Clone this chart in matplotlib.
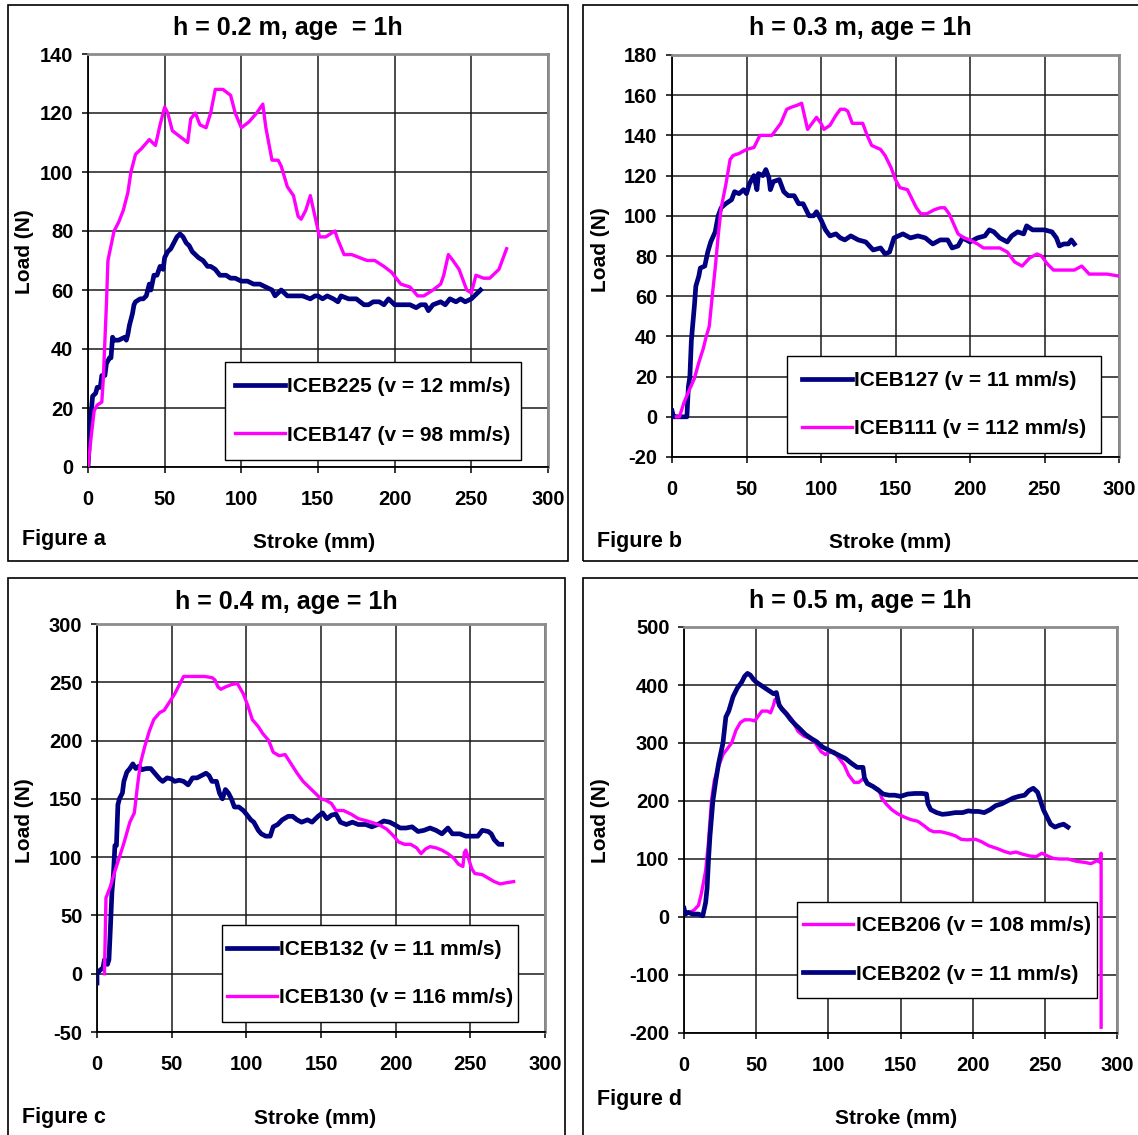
import matplotlib
matplotlib.use('Agg')
import matplotlib.pyplot as plt
from matplotlib.patches import Rectangle

W, H = 1138, 1135
plt.rcParams['font.family'] = ['Liberation Sans', 'DejaVu Sans']
plt.rcParams['font.weight'] = 'bold'
plt.rcParams['axes.unicode_minus'] = False

NAVY = '#000080'
MAGENTA = '#FF00FF'

# ---- data (stroke mm, load N) ----
iceb225 = [(0, 0), (1, 10), (2, 18), (3, 24), (5, 25), (6, 27), (8, 27), (9, 31), (11, 31),
           (12, 35), (14, 37), (15, 37), (16, 44), (17, 43), (20, 43), (24, 44), (25, 43),
           (26, 45), (27, 48), (29, 52), (30, 55), (31, 56), (34, 57), (36, 57), (38, 58),
           (40, 62), (41, 60), (43, 65), (45, 65), (47, 68), (49, 67), (50, 71), (52, 73),
           (54, 74), (56, 76), (58, 78), (60, 79), (62, 78), (64, 76), (66, 75), (68, 73),
           (70, 72), (72, 71), (75, 70), (78, 68), (80, 68), (83, 67), (86, 65), (90, 65),
           (93, 64), (96, 64), (100, 63), (104, 63), (108, 62), (112, 62), (116, 61),
           (120, 60), (122, 58), (124, 59), (126, 60), (130, 58), (135, 58), (140, 58),
           (145, 57), (148, 58), (150, 58), (153, 57), (156, 58), (160, 57), (163, 56),
           (165, 58), (170, 57), (175, 57), (180, 55), (183, 55), (186, 56), (190, 56),
           (193, 55), (196, 57), (200, 55), (205, 55), (210, 55), (214, 54), (217, 55),
           (220, 55), (222, 53), (225, 55), (230, 56), (233, 55), (236, 57), (240, 56),
           (243, 57), (246, 56), (250, 57), (252, 58), (254, 59), (256, 60)]
iceb147 = [(0, 0), (2, 10), (4, 19), (6, 21), (9, 22), (10, 30), (12, 55), (13, 70),
           (17, 80), (20, 83), (23, 87), (26, 93), (28, 100), (31, 106), (35, 108),
           (40, 111), (44, 109), (47, 116), (50, 122), (52, 120), (55, 114), (60, 112),
           (65, 110), (67, 118), (70, 120), (73, 116), (77, 115), (80, 120), (83, 128),
           (88, 128), (93, 126), (96, 120), (100, 115), (105, 117), (110, 120), (114, 123),
           (116, 115), (120, 104), (124, 104), (126, 102), (130, 95), (134, 92), (137, 85),
           (139, 84), (142, 87), (145, 92), (148, 85), (151, 78), (155, 78), (158, 79),
           (161, 80), (163, 77), (167, 72), (172, 72), (177, 71), (182, 70), (187, 70),
           (193, 68), (198, 66), (204, 62), (210, 61), (215, 58), (219, 58), (225, 60),
           (230, 62), (232, 65), (235, 72), (238, 70), (242, 67), (247, 60), (250, 59),
           (253, 65), (258, 64), (262, 64), (266, 66), (268, 67), (273, 74)]

iceb127 = [(0, 3), (1, 0), (3, 0), (6, 0), (10, 0), (11, 15), (12, 20), (13, 38), (15, 55),
           (16, 65), (18, 70), (19, 74), (22, 75), (24, 82), (26, 87), (29, 92), (31, 100),
           (33, 104), (36, 106), (40, 108), (42, 112), (45, 111), (48, 113), (50, 111),
           (52, 116), (55, 120), (57, 113), (58, 121), (61, 120), (63, 123), (65, 119),
           (66, 113), (68, 117), (72, 118), (75, 112), (78, 110), (82, 110), (85, 106),
           (88, 106), (90, 103), (92, 100), (95, 100), (97, 102), (100, 98), (103, 93),
           (106, 90), (110, 91), (113, 89), (116, 88), (120, 90), (125, 88), (130, 87),
           (135, 83), (140, 84), (143, 81), (146, 82), (149, 89), (152, 90), (155, 91),
           (160, 89), (165, 90), (170, 89), (175, 86), (180, 88), (185, 88), (188, 84),
           (192, 85), (195, 89), (200, 87), (205, 89), (210, 90), (213, 93), (216, 92),
           (220, 89), (225, 87), (228, 90), (232, 92), (236, 91), (238, 95), (242, 93),
           (246, 93), (250, 93), (255, 92), (258, 89), (260, 85), (263, 86), (266, 86),
           (268, 88), (270, 86)]
iceb111 = [(3, 0), (5, 0), (8, 7), (12, 14), (15, 19), (18, 27), (21, 34), (23, 40), (25, 45),
           (27, 60), (29, 74), (31, 90), (33, 104), (36, 115), (39, 128), (41, 130), (45, 131),
           (50, 133), (55, 134), (59, 140), (63, 140), (67, 140), (70, 143), (73, 146),
           (77, 153), (80, 154), (84, 155), (87, 156), (91, 143), (94, 146), (97, 149),
           (100, 146), (102, 143), (106, 145), (110, 150), (113, 153), (116, 153), (118, 152),
           (121, 146), (125, 146), (128, 146), (131, 140), (134, 135), (137, 134), (140, 133),
           (143, 130), (147, 124), (150, 118), (153, 114), (158, 113), (160, 110), (164, 104),
           (167, 101), (171, 101), (176, 103), (180, 104), (183, 104), (186, 101), (189, 96),
           (192, 91), (196, 89), (200, 88), (205, 86), (209, 84), (214, 84), (220, 84),
           (225, 82), (230, 77), (235, 75), (240, 79), (245, 81), (248, 80), (252, 76),
           (256, 73), (262, 73), (270, 73), (275, 75), (280, 71), (285, 71), (292, 71),
           (300, 70)]

iceb132 = [(0, -8), (0, 0), (2, 3), (4, 5), (5, 12), (7, 8), (8, 12), (9, 40), (10, 70),
           (11, 85), (12, 110), (13, 110), (14, 145), (15, 150), (17, 155), (18, 165),
           (20, 173), (22, 176), (24, 180), (26, 176), (28, 178), (30, 175), (33, 176),
           (36, 176), (38, 173), (40, 170), (42, 167), (44, 165), (47, 168), (50, 167),
           (52, 165), (55, 166), (58, 165), (61, 162), (64, 168), (67, 168), (70, 170),
           (73, 172), (75, 170), (77, 165), (80, 165), (82, 155), (84, 150), (86, 158),
           (88, 155), (90, 150), (92, 143), (95, 143), (98, 140), (100, 137), (103, 132),
           (105, 130), (108, 123), (110, 120), (113, 118), (116, 118), (118, 126), (121, 128),
           (124, 132), (128, 135), (131, 135), (134, 132), (137, 130), (141, 132), (144, 130),
           (148, 135), (151, 138), (154, 133), (157, 136), (160, 137), (163, 130), (167, 128),
           (171, 130), (175, 128), (180, 128), (184, 126), (188, 128), (192, 131), (196, 130),
           (199, 128), (203, 125), (207, 125), (211, 126), (215, 122), (219, 123), (223, 125),
           (227, 123), (231, 120), (235, 125), (238, 120), (243, 120), (247, 118), (251, 118),
           (255, 118), (258, 123), (262, 122), (264, 120), (266, 115), (269, 111), (271, 111)]
iceb130 = [(5, 0), (6, 65), (9, 75), (12, 88), (15, 100), (18, 112), (22, 130), (25, 138),
           (27, 160), (29, 180), (32, 195), (35, 208), (38, 218), (42, 224), (45, 226),
           (48, 232), (52, 240), (56, 250), (58, 255), (65, 255), (72, 255), (77, 254),
           (79, 252), (81, 246), (83, 244), (86, 246), (90, 248), (94, 249), (98, 240),
           (101, 230), (104, 218), (108, 212), (111, 206), (115, 200), (118, 190), (122, 187),
           (126, 188), (130, 180), (134, 172), (138, 165), (142, 160), (146, 155), (150, 150),
           (153, 149), (157, 146), (160, 140), (165, 140), (170, 137), (175, 133), (181, 131),
           (186, 129), (190, 127), (194, 124), (198, 119), (202, 113), (206, 111), (210, 111),
           (214, 108), (217, 103), (220, 107), (223, 109), (227, 108), (231, 106), (235, 103),
           (239, 99), (242, 94), (245, 92), (246, 104), (247, 106), (249, 98), (251, 90),
           (253, 86), (258, 85), (262, 82), (266, 79), (270, 77), (274, 78), (279, 79)]

iceb206 = [(0, 5), (4, 8), (7, 12), (10, 20), (12, 40), (15, 80), (17, 130), (19, 200),
           (21, 235), (24, 260), (27, 280), (30, 290), (33, 300), (36, 322), (39, 335),
           (42, 340), (46, 340), (49, 338), (51, 345), (54, 355), (58, 355), (60, 352),
           (62, 365), (63, 375), (65, 370), (68, 360), (71, 352), (75, 340), (79, 320),
           (83, 312), (87, 308), (91, 300), (95, 285), (98, 280), (100, 283), (104, 285),
           (107, 275), (111, 262), (114, 245), (118, 232), (121, 232), (124, 238), (127, 232),
           (131, 225), (135, 220), (137, 205), (140, 195), (144, 185), (148, 178), (152, 173),
           (157, 168), (162, 165), (166, 158), (170, 150), (173, 147), (178, 147), (183, 144),
           (188, 140), (192, 134), (196, 133), (202, 134), (206, 130), (211, 123), (217, 118),
           (222, 113), (226, 110), (230, 112), (235, 108), (240, 105), (244, 104), (248, 110),
           (252, 105), (256, 101), (260, 100), (266, 100), (272, 96), (278, 94), (282, 92),
           (286, 97), (288, 95), (289, 110), (289, -190)]
iceb202 = [(0, 15), (1, 5), (3, 8), (6, 5), (10, 5), (13, 2), (15, 25), (16, 50), (17, 100),
           (18, 140), (19, 170), (20, 200), (22, 235), (24, 265), (27, 300), (29, 345),
           (31, 355), (34, 380), (37, 395), (40, 405), (42, 415), (44, 420), (46, 417),
           (48, 410), (50, 405), (53, 400), (56, 395), (59, 390), (62, 385), (64, 387),
           (65, 375), (66, 365), (68, 358), (71, 350), (74, 340), (77, 332), (80, 325),
           (84, 315), (88, 308), (92, 302), (96, 293), (100, 288), (104, 283), (108, 278),
           (112, 273), (116, 265), (120, 258), (124, 258), (125, 240), (127, 230), (131, 225),
           (135, 218), (138, 212), (142, 210), (146, 210), (150, 208), (155, 212), (160, 213),
           (165, 213), (168, 212), (169, 195), (171, 185), (175, 180), (179, 177), (183, 178),
           (188, 180), (193, 180), (197, 183), (200, 182), (204, 182), (208, 180), (212, 185),
           (216, 192), (220, 195), (224, 200), (228, 205), (232, 208), (236, 210), (239, 218),
           (242, 222), (245, 215), (247, 200), (249, 185), (252, 170), (254, 160), (257, 155),
           (260, 158), (263, 160), (266, 155)]

x_ticks = [0, 50, 100, 150, 200, 250, 300]

fig = plt.figure(figsize=(W / 100, H / 100), dpi=100)


def frame(l, t, r, b):
    fig.patches.append(Rectangle((l / W, 1 - b / H), (r - l) / W, (b - t) / H,
                                 transform=fig.transFigure, fill=False,
                                 edgecolor='black', lw=1.2))


def ftext(x, y, s, **kw):
    fig.text(x / W, 1 - y / H, s, fontweight='bold', **kw)


def panel(rect, yticks, series, leg_rect, title, title_xy, ylab_xy, xlab_xy, tag, tag_xy):
    l, t, r, b = rect
    ax = fig.add_axes([l / W, 1 - b / H, (r - l) / W, (b - t) / H])
    for pts, col, lw, lab in series:
        xs = [p[0] for p in pts]
        ys = [p[1] for p in pts]
        ax.plot(xs, ys, color=col, lw=lw, label=lab, zorder=3)
    ax.set_xlim(0, 300)
    ax.set_ylim(yticks[0], yticks[-1])
    ax.set_xticks(x_ticks)
    ax.set_yticks(yticks)
    ax.grid(True, color='0.1', lw=1.1)
    ax.set_axisbelow(True)
    for side in ('top', 'right'):
        ax.spines[side].set_color('#8c8c8c')
        ax.spines[side].set_linewidth(2)
    for side in ('left', 'bottom'):
        ax.spines[side].set_color('black')
        ax.spines[side].set_linewidth(1.3)
    ax.tick_params(direction='out', length=4.5, width=1.1, labelsize=14.5)
    ax.tick_params(axis='x', pad=12)
    ax.tick_params(axis='y', pad=6)
    for lbl in ax.get_xticklabels() + ax.get_yticklabels():
        lbl.set_fontweight('bold')

    # legend box drawn separately so its size matches the original exactly
    ll, lt, lr, lb = leg_rect
    lbox = (ll / W, 1 - lb / H, (lr - ll) / W, (lb - lt) / H)
    ax.add_patch(Rectangle(lbox[:2], lbox[2], lbox[3], transform=fig.transFigure,
                           facecolor='white', edgecolor='black', lw=1.0,
                           zorder=4, clip_on=False))
    leg = ax.legend(loc='center', bbox_to_anchor=lbox, bbox_transform=fig.transFigure,
                    frameon=False, prop={'size': 15, 'weight': 'bold'},
                    handlelength=2.4, handletextpad=0.1, labelspacing=1.4,
                    borderpad=0.2, borderaxespad=0)
    leg.set_zorder(5)

    ftext(*title_xy, title, fontsize=18, ha='center', va='center')
    ftext(*ylab_xy, 'Load (N)', fontsize=15, ha='center', va='center', rotation=90)
    ftext(*xlab_xy, 'Stroke (mm)', fontsize=15, ha='center', va='center')
    ftext(*tag_xy, tag, fontsize=15.5, ha='left', va='center')
    return ax


frame(8, 5, 568, 561)
frame(583, 5, 1150, 561)
frame(8, 578, 565, 1145)
frame(583, 578, 1150, 1145)

panel((88, 54, 548, 467), [0, 20, 40, 60, 80, 100, 120, 140],
      [(iceb225, NAVY, 3.4, 'ICEB225 (v = 12 mm/s)'),
       (iceb147, MAGENTA, 2.4, 'ICEB147 (v = 98 mm/s)')],
      (225, 362, 521, 460), 'h = 0.2 m, age  = 1h', (288, 28), (25, 252), (314, 542),
      'Figure a', (22, 540))

panel((672, 55, 1119, 457), [-20, 0, 20, 40, 60, 80, 100, 120, 140, 160, 180],
      [(iceb127, NAVY, 3.4, 'ICEB127 (v = 11 mm/s)'),
       (iceb111, MAGENTA, 2.4, 'ICEB111 (v = 112 mm/s)')],
      (787, 356, 1101, 453), 'h = 0.3 m, age = 1h', (860, 28), (600, 250), (890, 542),
      'Figure b', (597, 541))

panel((97, 624, 545, 1032), [-50, 0, 50, 100, 150, 200, 250, 300],
      [(iceb132, NAVY, 3.4, 'ICEB132 (v = 11 mm/s)'),
       (iceb130, MAGENTA, 2.4, 'ICEB130 (v = 116 mm/s)')],
      (222, 925, 518, 1022), 'h = 0.4 m, age = 1h', (286, 602), (25, 821), (315, 1118),
      'Figure c', (22, 1117))

panel((684, 627, 1117, 1033), [-200, -100, 0, 100, 200, 300, 400, 500],
      [(iceb206, MAGENTA, 2.4, 'ICEB206 (v = 108 mm/s)'),
       (iceb202, NAVY, 3.4, 'ICEB202 (v = 11 mm/s)')],
      (797, 902, 1097, 998), 'h = 0.5 m, age = 1h', (860, 601), (600, 821), (896, 1118),
      'Figure d', (597, 1100))

fig.savefig('out.png', dpi=100, facecolor='white')
